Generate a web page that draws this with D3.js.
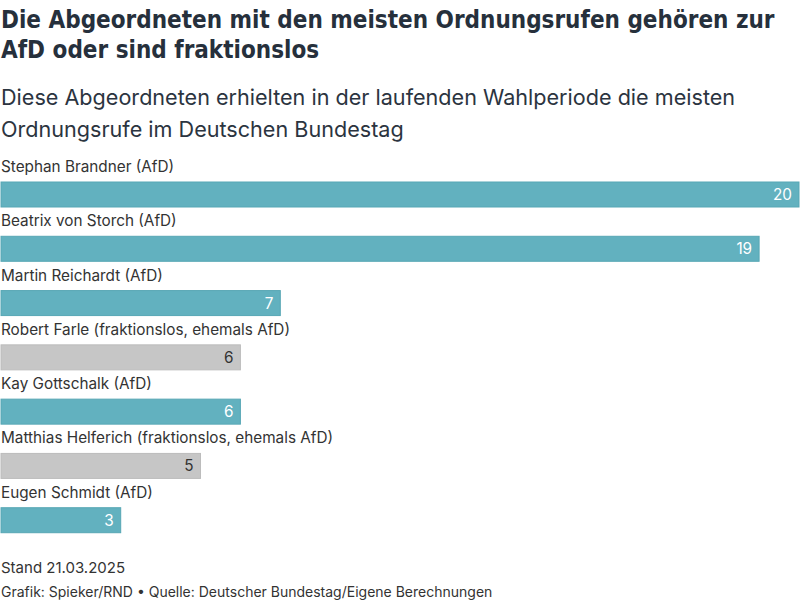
<!DOCTYPE html>
<html>
<head>
<meta charset="utf-8">
<script src="https://cdn.jsdelivr.net/npm/d3@7"></script>
<style>
  body { margin: 0; background: #fff; }
  svg text { font-family: Inter, "Noto Sans", sans-serif; }
</style>
</head>
<body>
<div id="chart"></div>
<script>
// Daten
const names = [
  'Stephan Brandner (AfD)',
  'Beatrix von Storch (AfD)',
  'Martin Reichardt (AfD)',
  'Robert Farle (fraktionslos, ehemals AfD)',
  'Kay Gottschalk (AfD)',
  'Matthias Helferich (fraktionslos, ehemals AfD)',
  'Eugen Schmidt (AfD)'
];
const values = [20, 19, 7, 6, 6, 5, 3];
const groups = ['AfD', 'AfD', 'AfD', 'fraktionslos', 'AfD', 'fraktionslos', 'AfD'];

const titleLines = ['Die Abgeordneten mit den meisten Ordnungsrufen gehören zur', 'AfD oder sind fraktionslos'];
const subtitleLines = ['Diese Abgeordneten erhielten in der laufenden Wahlperiode die meisten', 'Ordnungsrufe im Deutschen Bundestag'];
const noteText = 'Stand 21.03.2025';
const sourceText = 'Grafik: Spieker/RND • Quelle: Deutscher Bundestag/Eigene Berechnungen';

const data = names.map((n, i) => ({ name: n, value: values[i], group: groups[i] }));

const W = 800, H = 600;
const svg = d3.select('#chart').append('svg')
  .attr('width', W).attr('height', H);

// Titel
svg.append('g').selectAll('text')
  .data(titleLines).enter().append('text')
  .attr('x', 1)
  .attr('y', (d, i) => 28 + i * 30)
  .attr('fill', '#26303c')
  .style('font-family', '"DejaVu Sans Condensed", "DejaVu Sans", sans-serif')
  .style('font-weight', 'bold')
  .style('font-size', '24px')
  .text(d => d);

svg.append('g').selectAll('text')
  .data(subtitleLines).enter().append('text')
  .attr('x', 1)
  .attr('y', (d, i) => 105 + i * 32)
  .attr('fill', '#2b3440')
  .style('font-size', '21.6px')
  .text(d => d);

// Balken
const x = d3.scaleLinear().domain([0, 20]).range([1, 799]);
const y = d3.scaleBand().domain(names).range([160, 540]).paddingInner(0).paddingOuter(0);

const color = d3.scaleOrdinal()
  .domain(['AfD', 'fraktionslos'])
  .range(['#62b1bf', '#c6c6c6']);
const stroke = d3.scaleOrdinal()
  .domain(['AfD', 'fraktionslos'])
  .range(['#57a7b5', '#bcbcbc']);
const labelColor = d3.scaleOrdinal()
  .domain(['AfD', 'fraktionslos'])
  .range(['#ffffff', '#333333']);

const row = svg.append('g').selectAll('g')
  .data(data).enter().append('g')
  .attr('transform', d => 'translate(0,' + y(d.name) + ')');

row.append('text')
  .attr('x', 1)
  .attr('y', 12)
  .attr('fill', '#333333')
  .style('font-size', '15.3px')
  .text(d => d.name);

row.append('rect')
  .attr('x', x(0))
  .attr('y', 22)
  .attr('width', d => x(d.value) - x(0))
  .attr('height', 25)
  .attr('fill', d => color(d.group))
  .attr('stroke', d => stroke(d.group))
  .attr('stroke-width', 1);

row.append('text')
  .attr('x', d => x(d.value) - 7)
  .attr('y', 40)
  .attr('text-anchor', 'end')
  .attr('fill', d => labelColor(d.group))
  .style('font-size', '15.3px')
  .text(d => d.value);

// Fußnoten
svg.append('text')
  .attr('x', 1).attr('y', 573)
  .attr('fill', '#333333')
  .style('font-size', '15px')
  .text(noteText);

svg.append('text')
  .attr('x', 1).attr('y', 597)
  .attr('fill', '#333333')
  .style('font-size', '14px')
  .text(sourceText);
</script>
</body>
</html>
